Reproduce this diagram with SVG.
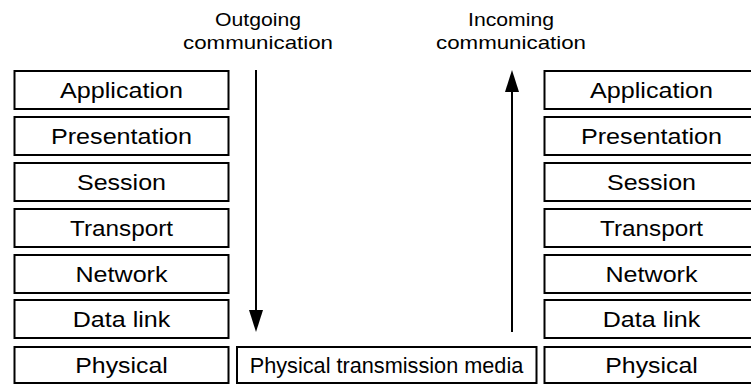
<svg xmlns="http://www.w3.org/2000/svg" width="751" height="385" viewBox="0 0 751 385">
  <style>
    .box { fill: #ffffff; stroke: #000000; stroke-width: 2; }
    .lbl { font-family: "Liberation Sans", Arial, sans-serif; font-size: 22px; fill: #000000; text-anchor: middle; }
    .mid { font-family: "Liberation Sans", Arial, sans-serif; font-size: 21.7px; fill: #000000; text-anchor: middle; }
    .cap { font-family: "Liberation Sans", Arial, sans-serif; font-size: 19px; fill: #000000; text-anchor: middle; }
    .wire { stroke: #000000; stroke-width: 2; fill: none; }
  </style>
  <defs>
    <marker id="head" markerUnits="userSpaceOnUse" markerWidth="22" markerHeight="14" refX="10" refY="7" orient="auto">
      <path d="M0,0 L22,7 L0,14 z" fill="#000000"/>
    </marker>
  </defs>

  <rect width="751" height="385" fill="#ffffff"/>

  <!-- sending stack -->
  <g id="tx-application"><rect class="box" x="14.5" y="71" width="214" height="38"/><text class="lbl" x="121.5" y="98" textLength="123" lengthAdjust="spacingAndGlyphs">Application</text></g>
  <g id="tx-presentation"><rect class="box" x="14.5" y="117" width="214" height="38"/><text class="lbl" x="121.5" y="144" textLength="141" lengthAdjust="spacingAndGlyphs">Presentation</text></g>
  <g id="tx-session"><rect class="box" x="14.5" y="163" width="214" height="38"/><text class="lbl" x="121.5" y="190" textLength="89" lengthAdjust="spacingAndGlyphs">Session</text></g>
  <g id="tx-transport"><rect class="box" x="14.5" y="209" width="214" height="38"/><text class="lbl" x="121.5" y="236" textLength="103" lengthAdjust="spacingAndGlyphs">Transport</text></g>
  <g id="tx-network"><rect class="box" x="14.5" y="255" width="214" height="38"/><text class="lbl" x="121.5" y="282" textLength="92" lengthAdjust="spacingAndGlyphs">Network</text></g>
  <g id="tx-datalink"><rect class="box" x="14.5" y="300" width="214" height="38"/><text class="lbl" x="121.5" y="327" textLength="97.5" lengthAdjust="spacingAndGlyphs">Data link</text></g>
  <g id="tx-physical"><rect class="box" x="14.5" y="347" width="214" height="36"/><text class="lbl" x="121.5" y="373" textLength="92.5" lengthAdjust="spacingAndGlyphs">Physical</text></g>

  <!-- shared medium -->
  <g id="medium"><rect class="box" x="237" y="347" width="299.5" height="36"/><text class="mid" x="386.5" y="373">Physical transmission media</text></g>

  <!-- receiving stack -->
  <g id="rx-application"><rect class="box" x="544.5" y="71" width="214" height="38"/><text class="lbl" x="651.5" y="98" textLength="123" lengthAdjust="spacingAndGlyphs">Application</text></g>
  <g id="rx-presentation"><rect class="box" x="544.5" y="117" width="214" height="38"/><text class="lbl" x="651.5" y="144" textLength="141" lengthAdjust="spacingAndGlyphs">Presentation</text></g>
  <g id="rx-session"><rect class="box" x="544.5" y="163" width="214" height="38"/><text class="lbl" x="651.5" y="190" textLength="89" lengthAdjust="spacingAndGlyphs">Session</text></g>
  <g id="rx-transport"><rect class="box" x="544.5" y="209" width="214" height="38"/><text class="lbl" x="651.5" y="236" textLength="103" lengthAdjust="spacingAndGlyphs">Transport</text></g>
  <g id="rx-network"><rect class="box" x="544.5" y="255" width="214" height="38"/><text class="lbl" x="651.5" y="282" textLength="92" lengthAdjust="spacingAndGlyphs">Network</text></g>
  <g id="rx-datalink"><rect class="box" x="544.5" y="300" width="214" height="38"/><text class="lbl" x="651.5" y="327" textLength="97.5" lengthAdjust="spacingAndGlyphs">Data link</text></g>
  <g id="rx-physical"><rect class="box" x="544.5" y="347" width="214" height="36"/><text class="lbl" x="651.5" y="373" textLength="92.5" lengthAdjust="spacingAndGlyphs">Physical</text></g>

  <!-- direction captions -->
  <g id="caption-out">
    <text class="cap" x="258" y="26" textLength="86" lengthAdjust="spacingAndGlyphs">Outgoing</text>
    <text class="cap" x="258" y="49" textLength="150" lengthAdjust="spacingAndGlyphs">communication</text>
  </g>
  <g id="caption-in">
    <text class="cap" x="511" y="26" textLength="86" lengthAdjust="spacingAndGlyphs">Incoming</text>
    <text class="cap" x="511" y="49" textLength="150" lengthAdjust="spacingAndGlyphs">communication</text>
  </g>

  <!-- flow arrows -->
  <g id="connectors">
    <line class="wire" x1="256" y1="70" x2="256" y2="320" marker-end="url(#head)"/>
    <line class="wire" x1="512" y1="332" x2="512" y2="82" marker-end="url(#head)"/>
  </g>
</svg>
